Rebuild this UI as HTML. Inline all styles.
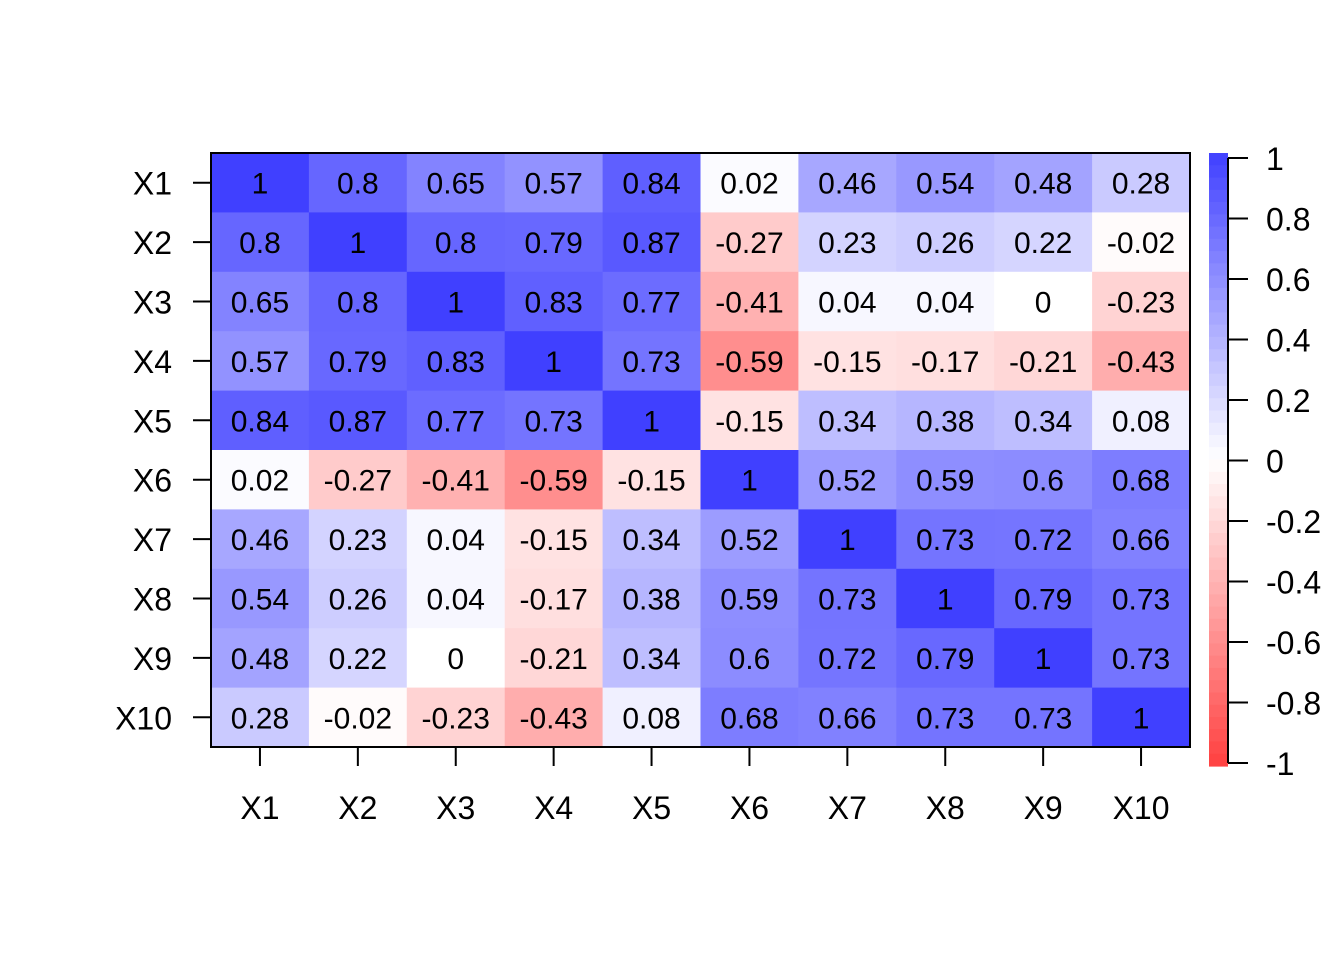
<!DOCTYPE html>
<html><head><meta charset="utf-8"><style>
body{margin:0;background:#fff}
svg text{font-family:"Liberation Sans",Arial,sans-serif}
</style></head><body>
<svg id="c" width="1344" height="960" xmlns="http://www.w3.org/2000/svg"></svg>
<script>
const labels=["X1","X2","X3","X4","X5","X6","X7","X8","X9","X10"];
const row1=[1,0.8,0.65,0.57,0.84,0.02,0.46,0.54,0.48,0.28];
const row2=[0.8,1,0.8,0.79,0.87,-0.27,0.23,0.26,0.22,-0.02];
const row3=[0.65,0.8,1,0.83,0.77,-0.41,0.04,0.04,0,-0.23];
const row4=[0.57,0.79,0.83,1,0.73,-0.59,-0.15,-0.17,-0.21,-0.43];
const row5=[0.84,0.87,0.77,0.73,1,-0.15,0.34,0.38,0.34,0.08];
const row6=[0.02,-0.27,-0.41,-0.59,-0.15,1,0.52,0.59,0.6,0.68];
const row7=[0.46,0.23,0.04,-0.15,0.34,0.52,1,0.73,0.72,0.66];
const row8=[0.54,0.26,0.04,-0.17,0.38,0.59,0.73,1,0.79,0.73];
const row9=[0.48,0.22,0,-0.21,0.34,0.6,0.72,0.79,1,0.73];
const row10=[0.28,-0.02,-0.23,-0.43,0.08,0.68,0.66,0.73,0.73,1];
const legendTicks=[1,0.8,0.6,0.4,0.2,0,-0.2,-0.4,-0.6,-0.8,-1];
const rows=[row1,row2,row3,row4,row5,row6,row7,row8,row9,row10];
const svg=document.getElementById('c');
const NS="http://www.w3.org/2000/svg";
function mk(t,a){const e=document.createElementNS(NS,t);for(const k in a)e.setAttribute(k,a[k]);svg.appendChild(e);return e;}
const L=211,R=1190,T=153,B=747;
const cw=(R-L)/labels.length,ch=(B-T)/labels.length;
const xs=i=>L+i*cw, ys=j=>T+j*ch;
function col(v){const t=Math.min(1,Math.abs(v));const c=Math.round(255-191*t);return v>=0?`rgb(${c},${c},255)`:`rgb(255,${c},${c})`;}
rows.forEach((r,j)=>r.forEach((v,i)=>{
 const e=mk('rect',{x:xs(i),y:ys(j),width:cw+0.5,height:ch+0.5,fill:col(v)});
 
 
 const t=mk('text',{x:xs(i)+cw/2,y:ys(j)+ch/2+11,'text-anchor':'middle','font-size':30});
 t.textContent=String(v);
 
 
}));
const br=mk('rect',{x:L,y:T,width:R-L,height:B-T,fill:'none',stroke:'#000','stroke-width':2});


labels.forEach((lb,k)=>{
 mk('line',{x1:193,x2:L,y1:ys(k)+ch/2,y2:ys(k)+ch/2,stroke:'#000','stroke-width':2});
 const a=mk('text',{x:172,y:ys(k)+ch/2+12,'text-anchor':'end','font-size':32});
 a.textContent=lb;
 
 
 mk('line',{x1:xs(k)+cw/2,x2:xs(k)+cw/2,y1:B,y2:766,stroke:'#000','stroke-width':2});
 const b=mk('text',{x:xs(k)+cw/2,y:819,'text-anchor':'middle','font-size':32});
 b.textContent=lb;
 
 
});
const cbT=153,cbB=766,cbL=1209,cbW=19,n=50;
const tv=v=>158+(1-v)/2*(763-158);
for(let k=0;k<n;k++){
 const v=1-(k+0.5)*2/n;
 const y0=cbT+k*(cbB-cbT)/n;
 const e=mk('rect',{x:cbL,y:y0,width:cbW,height:(cbB-cbT)/n+0.6,fill:col(v)});
 
 
}
mk('line',{x1:cbL+cbW,x2:cbL+cbW,y1:tv(1),y2:tv(-1),stroke:'#000','stroke-width':2});
legendTicks.forEach(v=>{
 mk('line',{x1:cbL+cbW,x2:1248,y1:tv(v),y2:tv(v),stroke:'#000','stroke-width':2});
 const t=mk('text',{x:1266,y:tv(v)+12,'font-size':32});
 t.textContent=String(v);
 
 
});
</script>
</body></html>
